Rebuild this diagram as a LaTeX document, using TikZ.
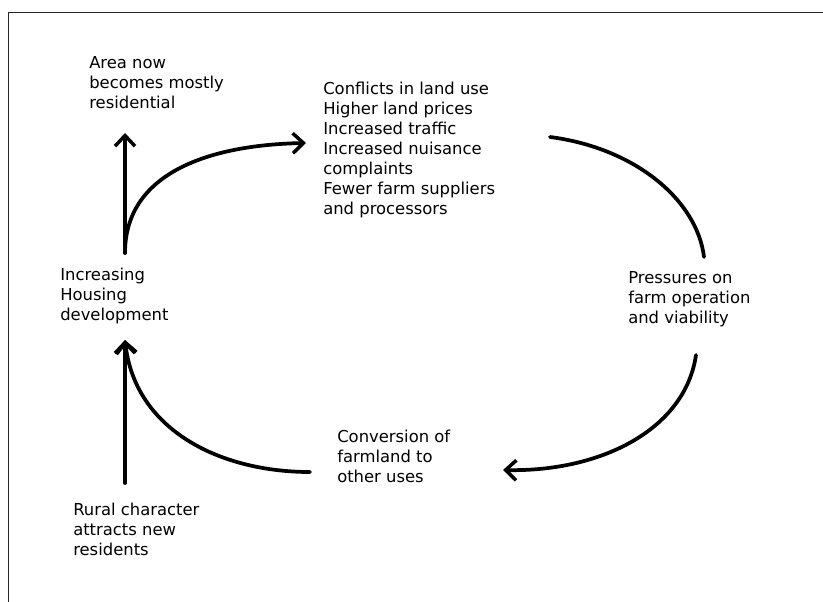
\documentclass[tikz,border=0pt]{standalone}
\usepackage{fontspec}
\setmainfont{DejaVu Sans}
\usetikzlibrary{arrows.meta}
\begin{document}
\begin{tikzpicture}[x=0.75pt,y=-0.75pt,
  lbl/.style={anchor=north west,inner sep=0pt,align=left,font=\fontsize{12.3}{15}\selectfont},
  flow/.style={line width=2.8pt,line cap=round,-{Straight Barb[length=8pt,width=15pt,line width=2.6pt]}},
  plain/.style={line width=2.8pt,line cap=round},
  frame/.style={line width=1.2pt,black!85}]
\useasboundingbox (0,0) rectangle (823,602);
\fill[white] (0,0) rectangle (823,602);
% frame
\draw[frame] (8.5,602) -- (8.5,12.5) -- (823,12.5);
% texts
\node[lbl] (area) at (89,56) {Area now\\becomes mostly\\residential};
\node[lbl] (conf) at (323,82) {Conflicts in land use\\Higher land prices\\Increased traffic\\Increased nuisance\\complaints\\Fewer farm suppliers\\and processors};
\node[lbl] (house) at (60,268) {Increasing\\Housing\\development};
\node[lbl] (press) at (628,271) {Pressures on\\farm operation\\and viability};
\node[lbl] (conv) at (337,430) {Conversion of\\farmland to\\other uses};
\node[lbl] (rural) at (73,503) {Rural character\\attracts new\\residents};
% anchor coordinates for connectors
\coordinate (hTop) at (125,253);
\coordinate (aTip) at (125,133);
\coordinate (cTip) at (306,143);
\coordinate (r1s) at (550,137);
\coordinate (r1e) at (704,257);
\coordinate (r2s) at (696,355);
\coordinate (r2e) at (503,470);
\coordinate (bs) at (310,472);
\coordinate (hBot) at (125,340);
\coordinate (rTop) at (125,483);
% connectors
\draw[flow] (hTop) -- (aTip);
\draw[flow] (hTop) .. controls (125,175) and (205,145) .. (cTip);
\draw[plain] (r1s) .. controls (635,148) and (697,200) .. (r1e);
\draw[flow] (r2s) .. controls (685,430) and (600,472) .. (r2e);
\draw[flow] (bs) .. controls (220,472) and (135,430) .. (hBot);
\draw[flow] (rTop) -- (hBot);
\end{tikzpicture}
\end{document}
